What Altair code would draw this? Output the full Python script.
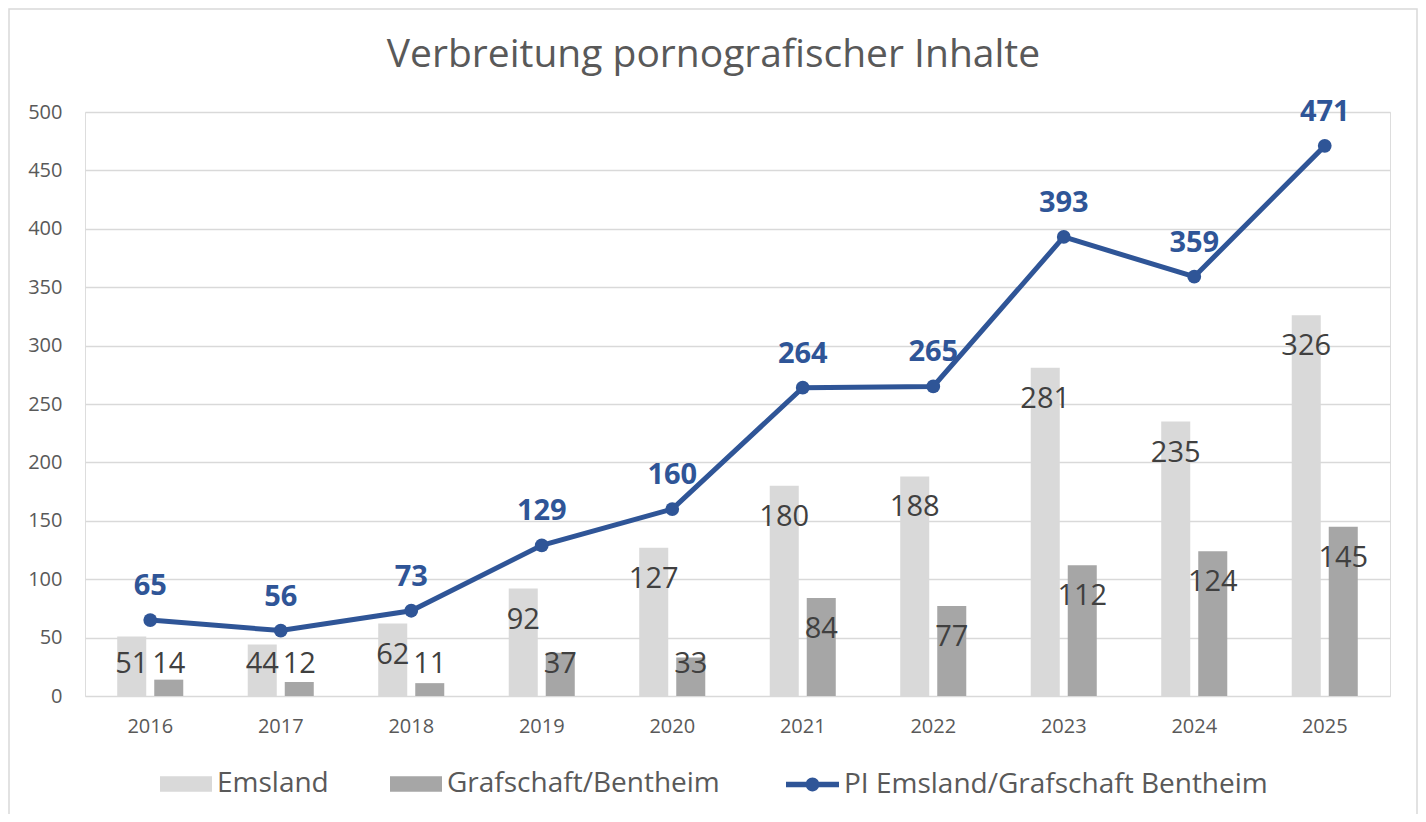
import altair as alt
import pandas as pd

years = ["2016", "2017", "2018", "2019", "2020", "2021", "2022", "2023", "2024", "2025"]
emsland = [51, 44, 62, 92, 127, 180, 188, 281, 235, 326]
grafschaft = [14, 12, 11, 37, 33, 84, 77, 112, 124, 145]
pi_total = [65, 56, 73, 129, 160, 264, 265, 393, 359, 471]
bar_series = ["Emsland", "Grafschaft/Bentheim"]
bar_colors = ["#d9d9d9", "#a6a6a6"]
line_series = ["PI Emsland/Grafschaft Bentheim"]
line_color = "#2f5597"
y_ticks = [0, 50, 100, 150, 200, 250, 300, 350, 400, 450, 500]

FONT = "Open Sans"
W, H = 1305, 584

bars_df = pd.DataFrame(
    [{"year": y, "series": bar_series[0], "value": v} for y, v in zip(years, emsland)]
    + [{"year": y, "series": bar_series[1], "value": v} for y, v in zip(years, grafschaft)]
)
line_df = pd.DataFrame({"year": years, "series": line_series[0], "value": pi_total})

x_enc = alt.X(
    "year:N",
    sort=years,
    scale=alt.Scale(paddingInner=0.494, paddingOuter=0.247),
    axis=alt.Axis(
        title=None, labelAngle=0, labelFont=FONT, labelFontSize=20, labelColor="#595959",
        labelPadding=20, ticks=False, domain=False, grid=False,
    ),
)
x_off = alt.XOffset("series:N", sort=bar_series, scale=alt.Scale(paddingInner=0.216, paddingOuter=0))
y_scale = alt.Scale(domain=[0, 500], nice=False)

rect_shape = "M-1,-0.3H1V0.3H-1Z"
line_shape = "M-1,-0.1H1V0.1H-1Z M0.26,0A0.26,0.26 0 1,1 -0.26,0A0.26,0.26 0 1,1 0.26,0Z"

bar_legend = alt.Legend(
    title=None, orient="none", direction="horizontal", legendX=75, legendY=646,
    labelFont=FONT, labelFontSize=28, labelColor="#595959", labelOffset=5,
    columnPadding=61, symbolSize=2704, symbolType=rect_shape, symbolStrokeWidth=0,
    padding=0, labelLimit=0,
)
line_legend = alt.Legend(
    title=None, orient="none", direction="horizontal", legendX=701, legendY=646,
    labelFont=FONT, labelFontSize=28, labelColor="#595959", labelOffset=5,
    symbolSize=2809, symbolType=line_shape, symbolStrokeWidth=0,
    symbolFillColor=line_color, padding=0, labelLimit=0,
)

base_bars = alt.Chart(bars_df)

bars = base_bars.mark_bar().encode(
    x=x_enc,
    xOffset=x_off,
    y=alt.Y(
        "value:Q",
        scale=y_scale,
        axis=alt.Axis(
            title=None, values=y_ticks, labelFont=FONT, labelFontSize=20, labelColor="#595959",
            labelPadding=23, ticks=False, domain=False, gridColor="#d9d9d9", gridWidth=1.3,
        ),
    ),
    fill=alt.Fill("series:N", scale=alt.Scale(domain=bar_series, range=bar_colors), legend=bar_legend),
)

bar_labels = base_bars.transform_calculate(
    labelPos="max(datum.value, 54)"
).mark_text(font=FONT, fontSize=29, color="#404040", baseline="middle", dy=31).encode(
    x=x_enc,
    xOffset=x_off,
    y=alt.Y("labelPos:Q", scale=y_scale),
    text=alt.Text("value:Q"),
)

base_line = alt.Chart(line_df)
line = base_line.mark_line(strokeWidth=5).encode(
    x=x_enc,
    y=alt.Y("value:Q", scale=y_scale),
    stroke=alt.Stroke("series:N", scale=alt.Scale(domain=line_series, range=[line_color]), legend=line_legend),
)
points = base_line.mark_circle(size=190, color=line_color, opacity=1).encode(
    x=x_enc,
    y=alt.Y("value:Q", scale=y_scale),
)
line_labels = base_line.mark_text(
    font=FONT, fontSize=29, fontWeight="bold", color=line_color, baseline="alphabetic", dy=-25
).encode(
    x=x_enc,
    y=alt.Y("value:Q", scale=y_scale),
    text=alt.Text("value:Q"),
)

frame = alt.Chart(alt.Data(values=[{"f": 1}])).mark_rect(
    filled=False, stroke="#d9d9d9", strokeWidth=1.5
).encode(
    x=alt.value(-76), x2=alt.value(W + 27), y=alt.value(-103), y2=alt.value(H + 140)
)

chart = alt.layer(frame, bars, bar_labels, line, points, line_labels).resolve_scale(
    x="shared", y="shared"
).properties(
    width=W,
    height=H,
    padding={"left": 77, "top": 104, "right": 28, "bottom": 118},
    autosize=alt.AutoSizeParams(type="none"),
    title=alt.Title(
        "Verbreitung pornografischer Inhalte",
        font=FONT, fontSize=39, fontWeight="normal", color="#595959",
        anchor="middle", frame="group", baseline="alphabetic", dx=-24, dy=98, offset=0,
    ),
).configure_view(stroke=None).configure(background="white")

chart.save("out.html", embed_options={"renderer": "svg", "actions": False})
